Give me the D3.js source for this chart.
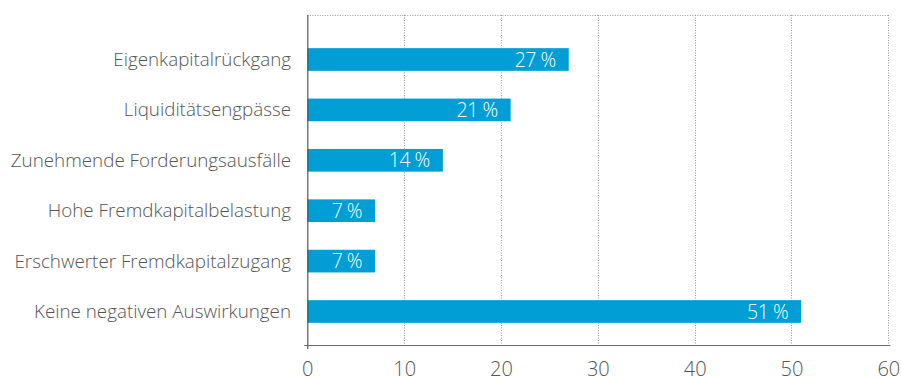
<!DOCTYPE html>
<html>
<head>
<meta charset="utf-8">
<script src="https://cdn.jsdelivr.net/npm/d3@7/dist/d3.min.js"></script>
<style>
  html, body { margin: 0; padding: 0; background: #fff; }
  svg { display: block; }
  text { font-family: "Open Sans", Lato, sans-serif; font-weight: 300; }
</style>
</head>
<body>
<svg id="chart" width="901" height="381"></svg>
<script>
// Auswirkungen auf die Finanzlage (Anteil in %)
const categories = [
  "Eigenkapitalrückgang",
  "Liquiditätsengpässe",
  "Zunehmende Forderungsausfälle",
  "Hohe Fremdkapitalbelastung",
  "Erschwerter Fremdkapitalzugang",
  "Keine negativen Auswirkungen"
];
const values = [27, 21, 14, 7, 7, 51];
const xTicks = [0, 10, 20, 30, 40, 50, 60];

const svg = d3.select("#chart");
const plotLeft = 307.3, plotRight = 888.3, plotTop = 15, plotBottom = 345;

const x = d3.scaleLinear().domain([0, 60]).range([plotLeft, plotRight]);
const y = d3.scaleBand().domain(categories).range([34.3, 336.7])
  .paddingInner(0.55).paddingOuter(0.275);

// dotted grid: vertical lines and top border
const grid = svg.append("g").attr("stroke", "#9a9a9a").attr("stroke-width", 1)
  .attr("stroke-dasharray", "1,1.5");
grid.selectAll("line.v").data(xTicks.slice(1)).join("line")
  .attr("class", "v")
  .attr("x1", d => Math.round(x(d)) + 0.5).attr("x2", d => Math.round(x(d)) + 0.5)
  .attr("y1", plotTop).attr("y2", plotBottom);
grid.append("line")
  .attr("x1", plotLeft).attr("x2", plotRight + 1)
  .attr("y1", plotTop + 0.5).attr("y2", plotTop + 0.5);

// bars
svg.append("g").selectAll("rect").data(values).join("rect")
  .attr("x", x(0))
  .attr("y", (d, i) => y(categories[i]))
  .attr("width", d => x(d) - x(0))
  .attr("height", y.bandwidth())
  .attr("fill", "#009ed5");

// value labels inside bar ends
svg.append("g").selectAll("text").data(values).join("text")
  .attr("x", d => x(d) - 13)
  .attr("y", (d, i) => y(categories[i]) + y.bandwidth() / 2 + 7)
  .attr("text-anchor", "end")
  .attr("fill", "#ffffff")
  .attr("font-size", 19.5)
  .attr("letter-spacing", -0.5)
  .text(d => d + " %");

// category labels
svg.append("g").selectAll("text").data(categories).join("text")
  .attr("x", 291)
  .attr("y", d => y(d) + y.bandwidth() / 2 + 6.5)
  .attr("text-anchor", "end")
  .attr("fill", "#555555")
  .attr("font-size", 18.8)
  .text(d => d);

// y axis line
svg.append("line")
  .attr("x1", plotLeft + 0.5).attr("x2", plotLeft + 0.5)
  .attr("y1", plotTop).attr("y2", plotBottom + 4)
  .attr("stroke", "#555").attr("stroke-width", 1.2);

// x axis
const xAxis = svg.append("g")
  .attr("transform", `translate(0,${plotBottom})`)
  .call(d3.axisBottom(x).tickValues(xTicks).tickSize(0).tickPadding(17).tickSizeOuter(0));
xAxis.select(".domain").remove();
xAxis.append("line")
  .attr("x1", plotLeft - 3).attr("x2", plotRight + 2)
  .attr("y1", 0.5).attr("y2", 0.5)
  .attr("stroke", "#666").attr("stroke-width", 1.2);
xAxis.selectAll(".tick text")
  .attr("fill", "#555")
  .attr("font-size", 20)
  .attr("font-family", "'Open Sans', Lato, sans-serif")
  .attr("font-weight", 300);
</script>
</body>
</html>
